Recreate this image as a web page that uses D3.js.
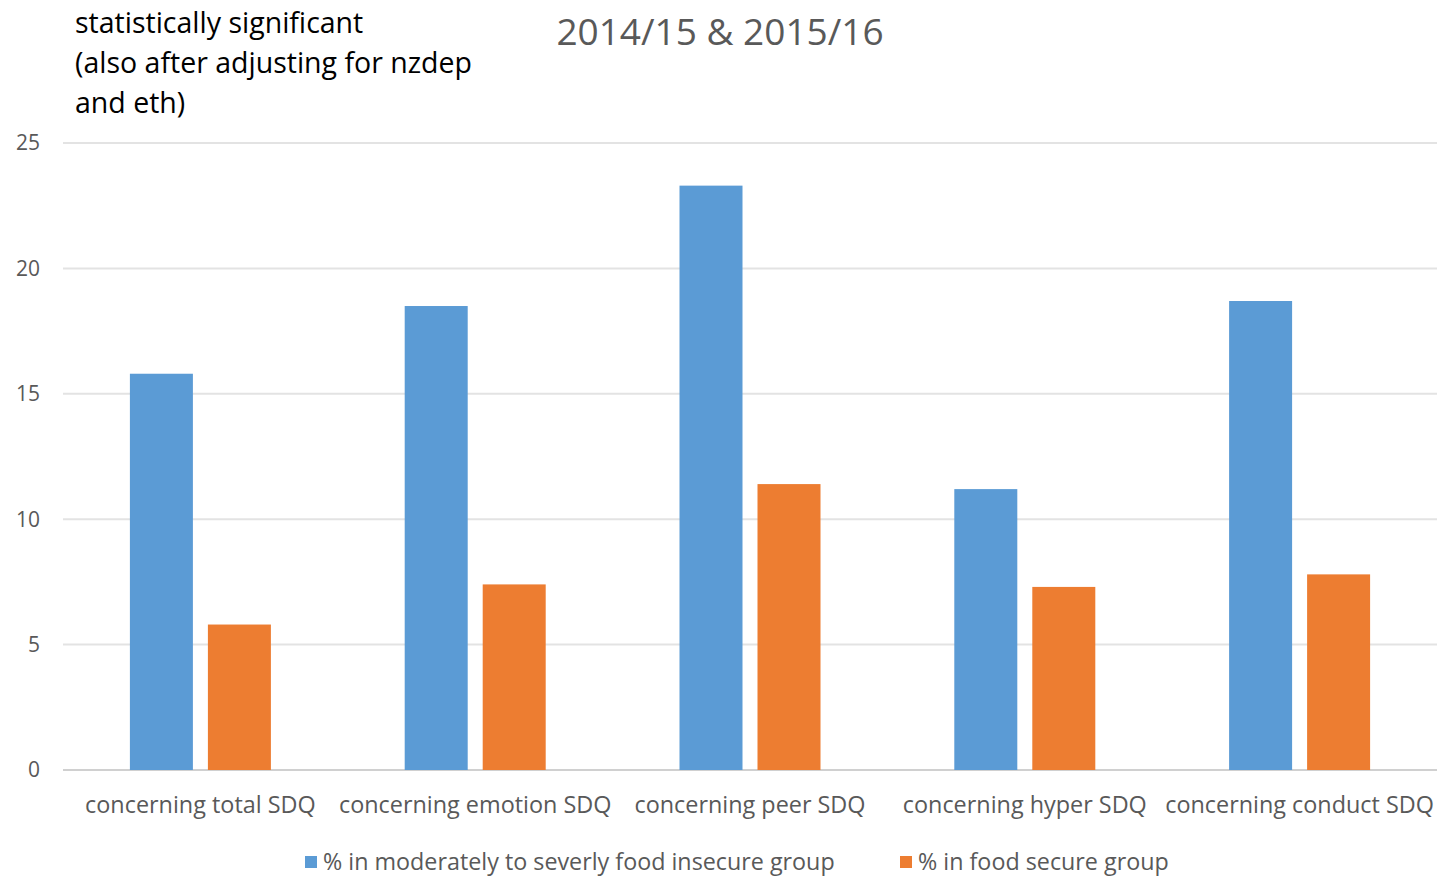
<!DOCTYPE html>
<html>
<head>
<meta charset="utf-8">
<script src="https://cdn.jsdelivr.net/npm/d3@7"></script>
<style>
  body { margin: 0; background: #fff; }
  svg { font-family: "Open Sans", "Noto Sans", sans-serif; }
</style>
</head>
<body>
<svg id="chart" width="1437" height="876"></svg>
<script>
let categories = ["concerning total SDQ", "concerning emotion SDQ", "concerning peer SDQ", "concerning hyper SDQ", "concerning conduct SDQ"];
let insecureValues = [15.8, 18.5, 23.3, 11.2, 18.7];
let secureValues = [5.8, 7.4, 11.4, 7.3, 7.8];
let seriesNames = ["% in moderately to severly food insecure group", "% in food secure group"];
let seriesColors = ["#5b9bd5", "#ed7d31"];
let yTicks = [0, 5, 10, 15, 20, 25];

let svg = d3.select("#chart");

let x = d3.scaleBand().domain(categories).range([63, 1437]).paddingInner(0).paddingOuter(0);
let y = d3.scaleLinear().domain([0, 25]).range([770, 143]);

// gridlines
svg.append("g")
    .selectAll("line")
    .data(yTicks)
    .enter().append("line")
    .attr("x1", 63)
    .attr("x2", 1437)
    .attr("y1", d => y(d))
    .attr("y2", d => y(d))
    .attr("stroke", d => d === 0 ? "#d0d0d0" : "#e3e3e3")
    .attr("stroke-width", 2);

// y tick labels
svg.append("g")
    .selectAll("text")
    .data(yTicks)
    .enter().append("text")
    .attr("x", 40)
    .attr("y", d => y(d))
    .attr("dy", "0.35em")
    .attr("text-anchor", "end")
    .attr("font-size", 21)
    .attr("fill", "#595959")
    .text(d => d);

// bars
let barW = 63, gap = 15;
let rows = categories.map((c, i) => ({ cat: c, values: [insecureValues[i], secureValues[i]] }));
let groups = svg.append("g").selectAll("g")
    .data(rows)
    .enter().append("g");

groups.selectAll("rect")
    .data(d => d.values.map((v, k) => ({ cat: d.cat, v: v, k: k })))
    .enter().append("rect")
    .attr("x", d => x(d.cat) + x.bandwidth() / 2 - barW - gap / 2 + d.k * (barW + gap))
    .attr("y", d => y(d.v))
    .attr("width", barW)
    .attr("height", d => y(0) - y(d.v))
    .attr("fill", d => seriesColors[d.k]);

// category labels
svg.append("g")
    .selectAll("text")
    .data(categories)
    .enter().append("text")
    .attr("x", d => x(d) + x.bandwidth() / 2)
    .attr("y", 805)
    .attr("dy", "0.35em")
    .attr("text-anchor", "middle")
    .attr("font-size", 23.4)
    .attr("fill", "#595959")
    .text(d => d);

// title
svg.append("text")
    .attr("x", 720)
    .attr("y", 32)
    .attr("dy", "0.35em")
    .attr("text-anchor", "middle")
    .attr("font-size", 37)
    .attr("fill", "#595959")
    .text("2014/15 & 2015/16");

// note top left
let note = ["statistically significant", "(also after adjusting for nzdep", "and eth)"];
svg.append("g")
    .selectAll("text")
    .data(note)
    .enter().append("text")
    .attr("x", 75)
    .attr("y", (d, i) => 23 + i * 40)
    .attr("dy", "0.35em")
    .attr("font-size", 28.5)
    .attr("fill", "#000")
    .text(d => d);

// legend
let legendX = [305, 900];
let legend = svg.append("g").selectAll("g")
    .data(seriesNames)
    .enter().append("g")
    .attr("transform", (d, i) => "translate(" + legendX[i] + ",862)");
legend.append("rect")
    .attr("x", 0).attr("y", -6)
    .attr("width", 12).attr("height", 12)
    .attr("fill", (d, i) => seriesColors[i]);
legend.append("text")
    .attr("x", 18)
    .attr("dy", "0.35em")
    .attr("font-size", 23.3)
    .attr("fill", "#595959")
    .text(d => d);
</script>
</body>
</html>
